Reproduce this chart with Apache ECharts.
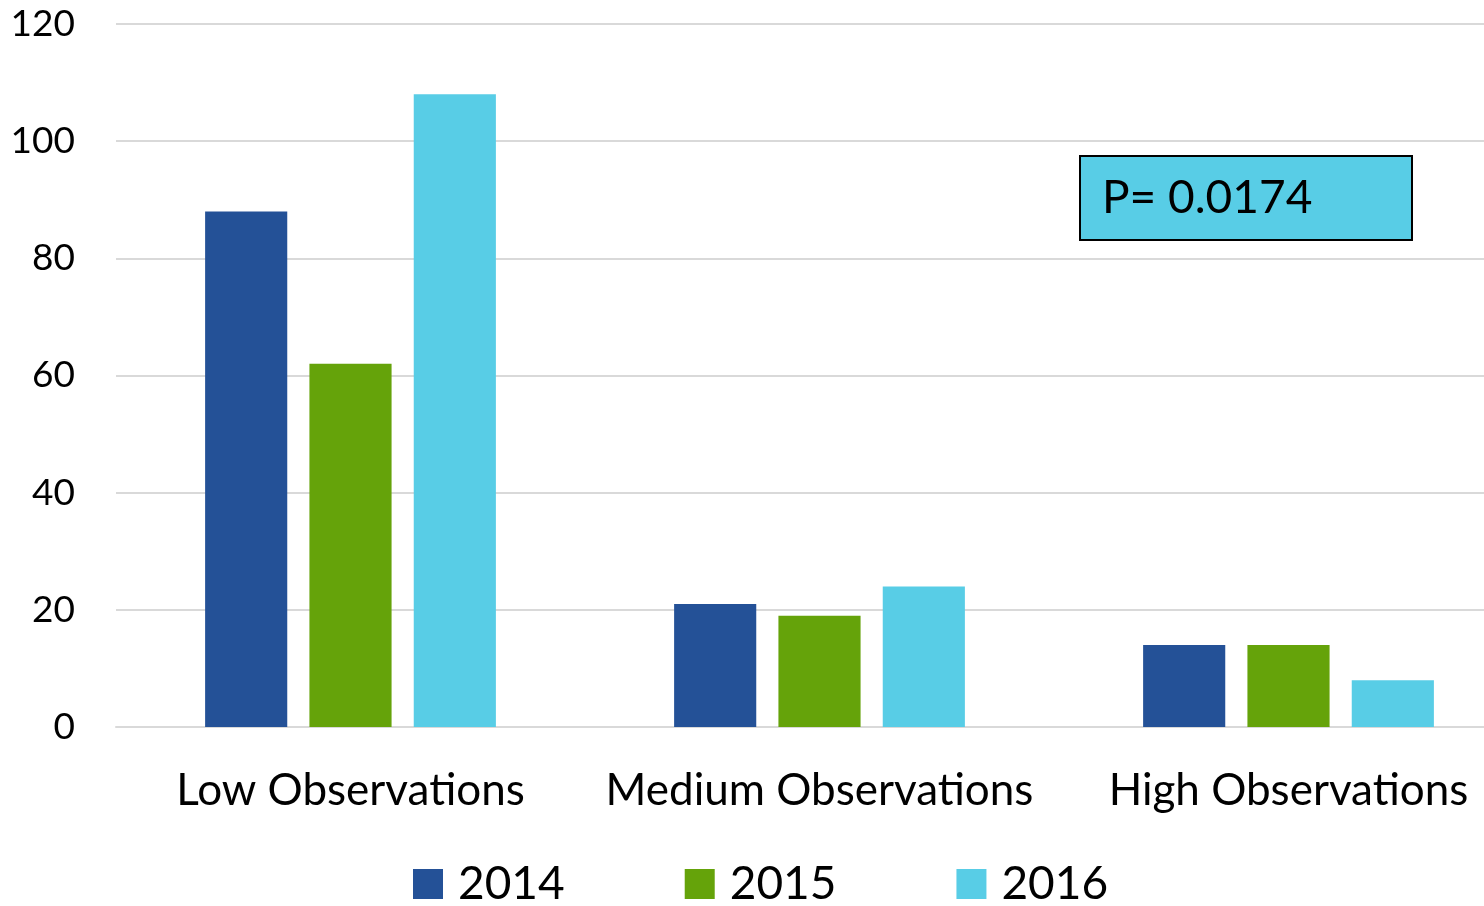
<!DOCTYPE html>
<html>
<head>
<meta charset="utf-8">
<script src="https://cdn.jsdelivr.net/npm/echarts@6/dist/echarts.min.js"></script>
<style>html,body{margin:0;padding:0;background:#fff;overflow:hidden}#c{width:1523px;height:906px}</style>
</head>
<body>
<div id="c"></div>
<script>
var categories = ['Low Observations', 'Medium Observations', 'High Observations'];
var seriesNames = ['2014', '2015', '2016'];
var values2014 = [88, 21, 14];
var values2015 = [62, 19, 14];
var values2016 = [108, 24, 8];
var yTicks = [0, 20, 40, 60, 80, 100, 120];
var colors = ['#245197', '#65A30A', '#58CDE6'];
var annotation = 'P= 0.0174';

var FONT = 'Lato';
var chart = echarts.init(document.getElementById('c'), null, {renderer: 'canvas'});
var allValues = [values2014, values2015, values2016];
chart.setOption({
  animation: false,
  textStyle: {fontFamily: FONT},
  grid: {left: 116, right: 0, top: 24, bottom: 179, containLabel: false},
  legend: {
    data: seriesNames,
    left: 413, top: 861, padding: 0,
    itemWidth: 30, itemHeight: 30, itemGap: 120,
    icon: 'rect',
    textStyle: {fontSize: 46, lineHeight: 46, color: '#000', fontFamily: FONT, padding: [0, 0, 0, 10]}
  },
  xAxis: {
    type: 'category',
    data: categories,
    axisTick: {show: false},
    axisLine: {lineStyle: {color: '#d9d9d9', width: 2}},
    axisLabel: {fontSize: 44, color: '#000', margin: 42, interval: 0, fontFamily: FONT}
  },
  yAxis: {
    type: 'value',
    min: yTicks[0], max: yTicks[yTicks.length - 1], interval: 20,
    axisLine: {show: false},
    axisTick: {show: false},
    splitLine: {lineStyle: {color: '#d9d9d9', width: 2}},
    axisLabel: {fontSize: 37, color: '#000', margin: 41, fontFamily: FONT}
  },
  series: seriesNames.map(function (n, i) {
    return {
      name: n, type: 'bar', data: allValues[i],
      itemStyle: {color: colors[i]},
      barGap: '27%', barCategoryGap: '38%'
    };
  }),
  graphic: [{
    type: 'group', left: 1079, top: 155,
    children: [
      {type: 'rect', shape: {x: 0, y: 0, width: 332, height: 84},
       style: {fill: '#58CDE6', stroke: '#000', lineWidth: 2}},
      {type: 'text', x: 22, y: 42,
       style: {text: annotation, fontSize: 46, fontFamily: FONT, fill: '#000', verticalAlign: 'middle'}}
    ]
  }]
});
</script>
</body>
</html>
